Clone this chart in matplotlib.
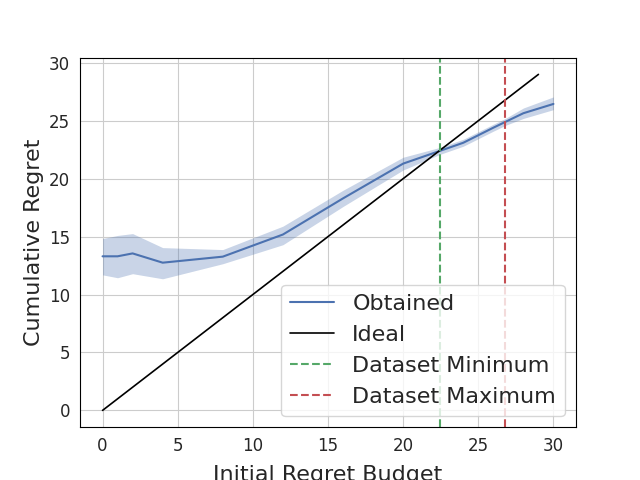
import numpy as np
import matplotlib
matplotlib.use("Agg")
import matplotlib.pyplot as plt
import seaborn as sns

# budgets tried and the regret obtained (mean with lower/upper band)
budget = [0, 1, 2, 4, 8, 12, 16, 20, 22.45, 24, 26, 26.8, 28, 30]
regret_mean = [13.3, 13.3, 13.55, 12.75, 13.27, 15.18, 18.3, 21.3, 22.4, 23.1, 24.4, 24.9, 25.65, 26.45]
regret_low = [11.7, 11.45, 11.8, 11.36, 12.66, 14.3, 17.6, 20.75, 22.1, 22.8, 24.1, 24.6, 25.2, 25.96]
regret_high = [14.83, 15.1, 15.26, 14.05, 13.88, 15.9, 19.0, 21.85, 22.7, 23.4, 24.7, 25.2, 26.1, 27.06]

ideal_x = [0, 29]
ideal_y = [0, 29]

dataset_min = 22.45
dataset_max = 26.78

sns.set_style("white")
plt.rcParams["axes.edgecolor"] = "black"
colors = sns.color_palette("deep")

fontsize = 16
plt.figure(figsize=(6.4, 4.8))
plt.fill_between(budget, regret_low, regret_high, color=colors[0], alpha=0.3, lw=0)
plt.plot(budget, regret_mean, color=colors[0], lw=1.5, label="Obtained")
plt.plot(ideal_x, ideal_y, color="black", lw=1.2, label="Ideal")
plt.axvline(dataset_min, color=colors[2], ls="--", lw=1.5, label="Dataset Minimum")
plt.axvline(dataset_max, color=colors[3], ls="--", lw=1.5, label="Dataset Maximum")

plt.grid(True)
plt.xticks(fontsize=12)
plt.yticks(fontsize=12)
plt.xlabel("Initial Regret Budget", fontsize=fontsize, labelpad=7)
plt.ylabel("Cumulative Regret", fontsize=fontsize)
plt.legend(loc="lower right", fontsize=fontsize)
plt.savefig("out.png", dpi=100)
